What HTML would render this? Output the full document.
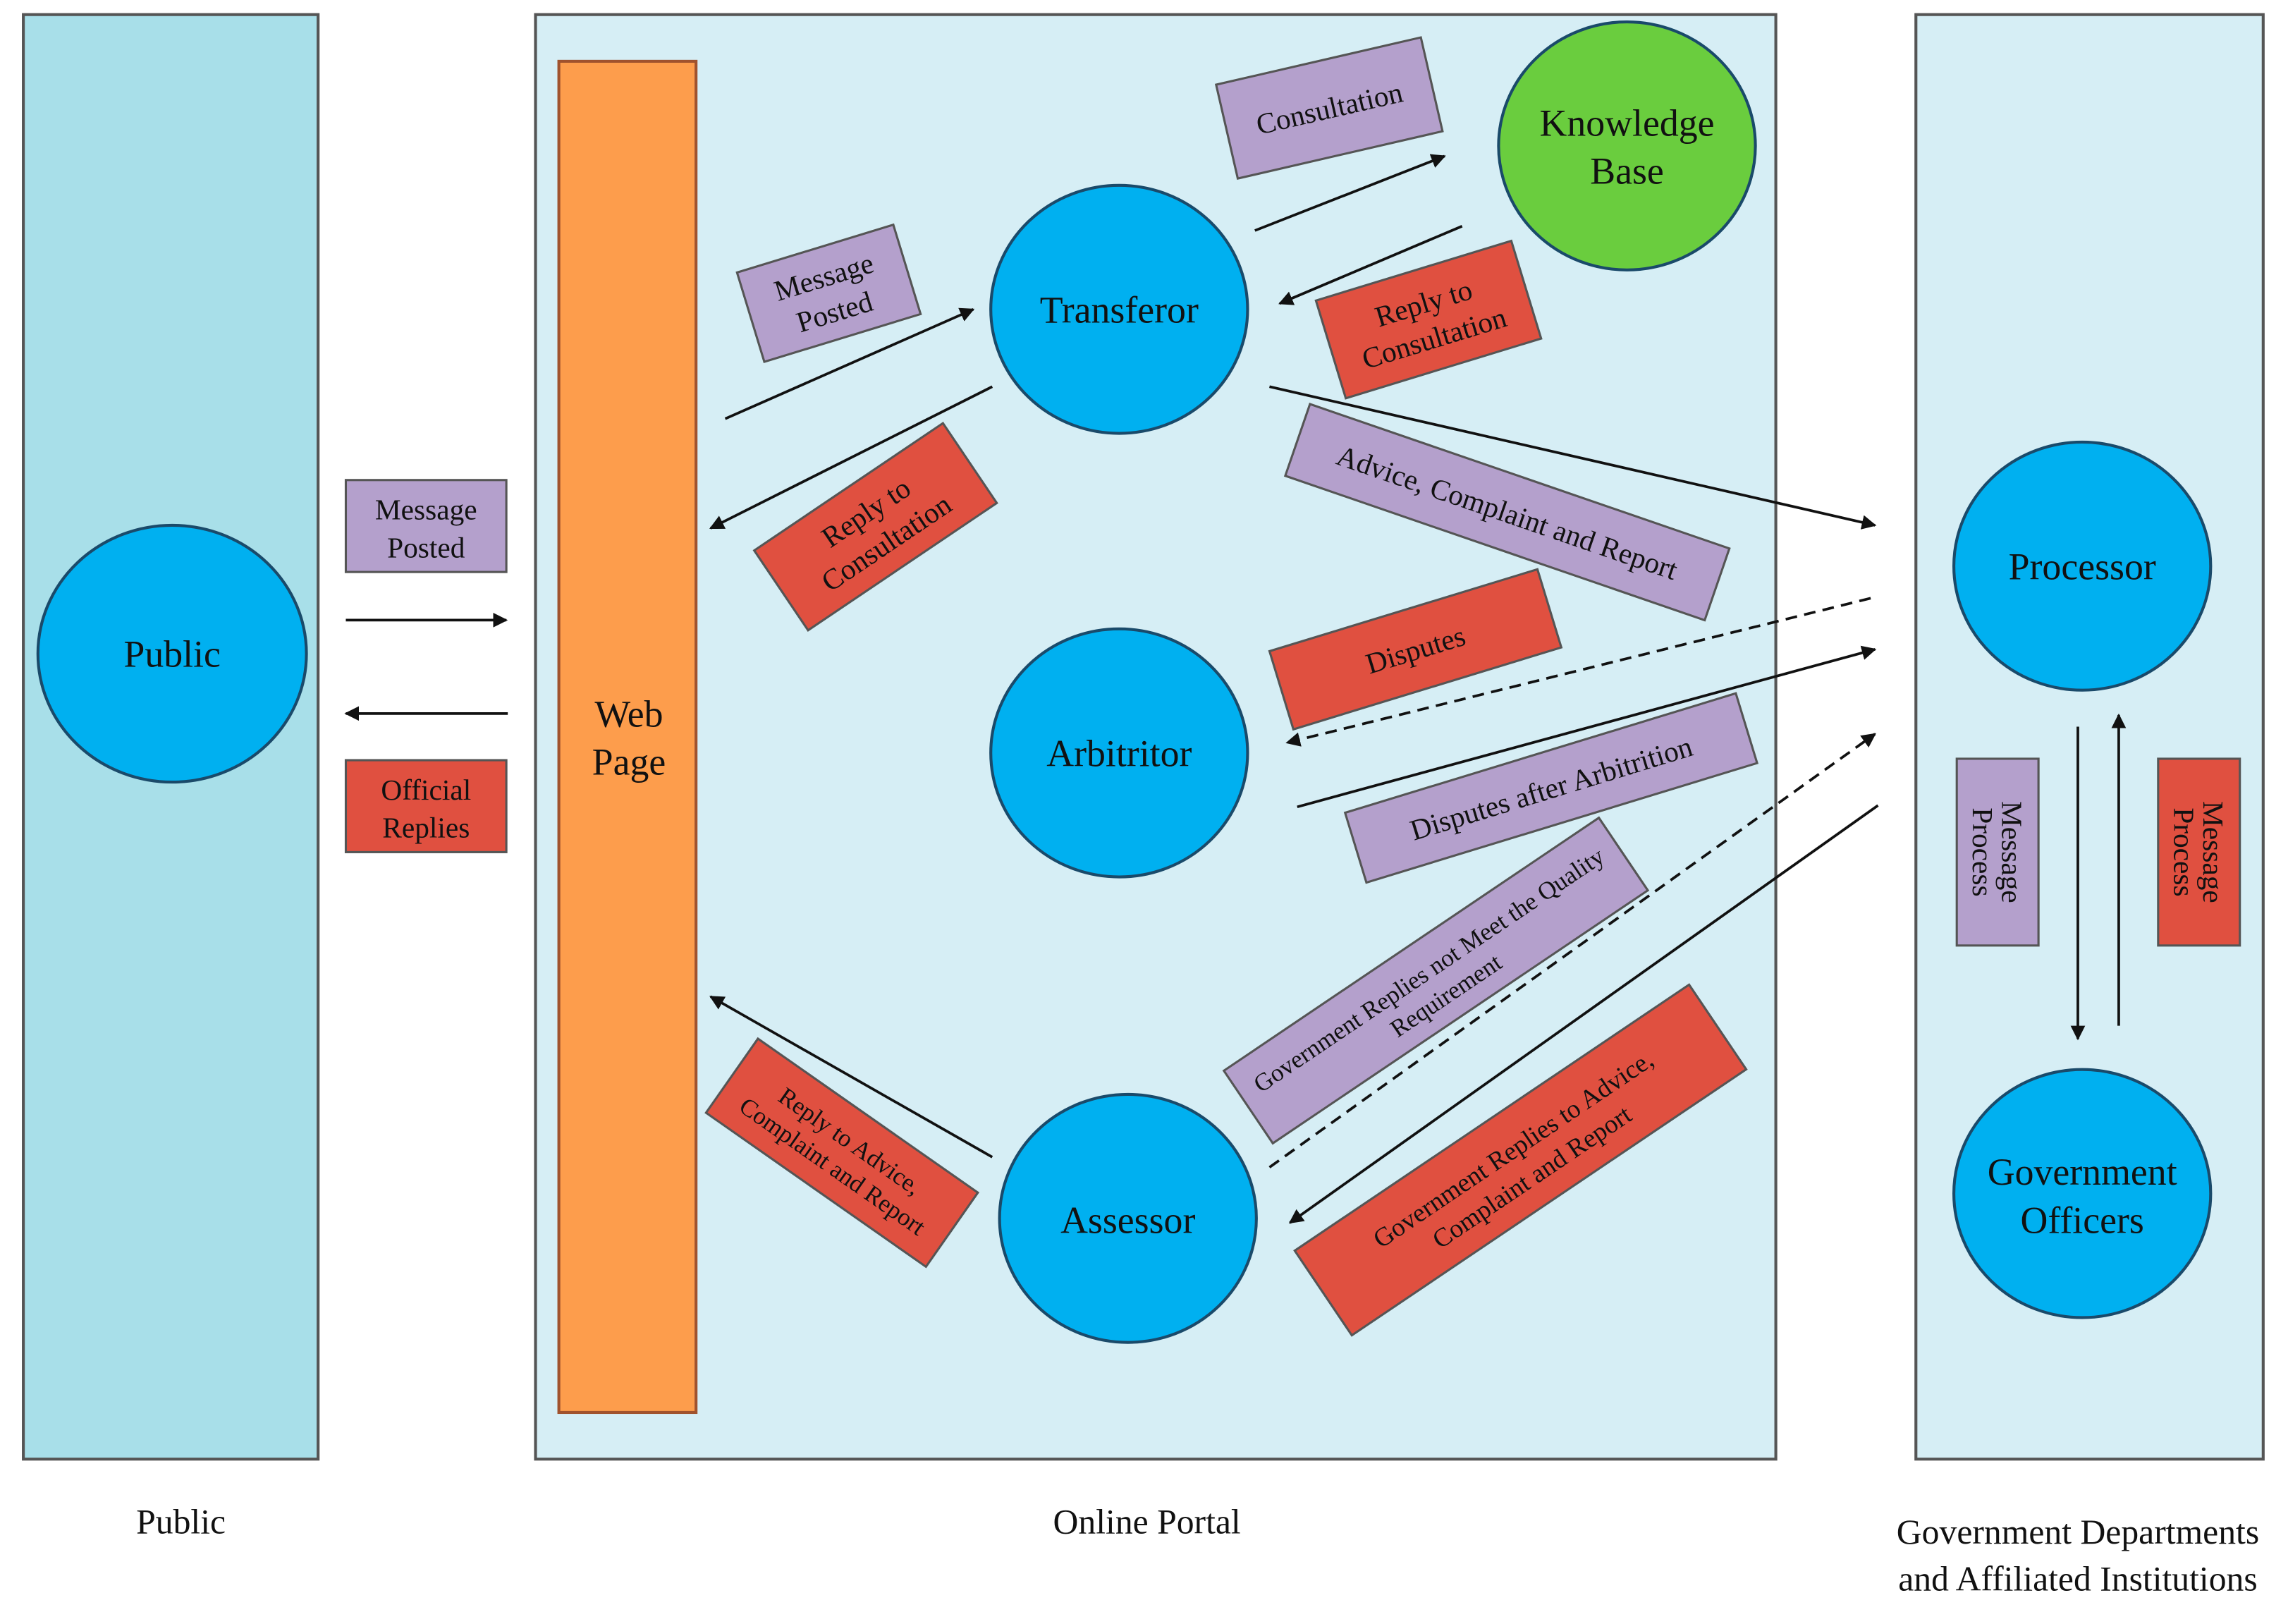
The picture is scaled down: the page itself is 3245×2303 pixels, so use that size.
<!DOCTYPE html>
<html><head><meta charset="utf-8"><style>
html,body{margin:0;padding:0;background:#fff}
svg{display:block}
text{font-family:"Liberation Serif",serif;fill:#111}
</style></head><body>
<svg width="3245" height="2303" viewBox="0 0 1568 1113" preserveAspectRatio="none" xmlns="http://www.w3.org/2000/svg">
<defs>
<marker id="a" markerWidth="10" markerHeight="10" refX="9" refY="5" orient="auto" markerUnits="userSpaceOnUse"><path d="M0,0 L10,5 L0,10 z" fill="#111"/></marker>
</defs>
<rect x="16" y="10" width="202" height="990" fill="#a8dfe9" stroke="#555" stroke-width="2"/>
<rect x="367" y="10" width="850" height="990" fill="#d6eef5" stroke="#555" stroke-width="2"/>
<rect x="1313" y="10" width="238" height="990" fill="#d6eef5" stroke="#555" stroke-width="2"/>
<rect x="383" y="42" width="94" height="926" fill="#fd9d4c" stroke="#a0522d" stroke-width="2"/>
<text x="431" y="498" font-size="26" text-anchor="middle">Web</text>
<text x="431" y="531" font-size="26" text-anchor="middle">Page</text>

<g stroke="#1a4a6a" stroke-width="2" fill="#00b0f0">
<ellipse cx="118" cy="448" rx="92" ry="88"/>
<ellipse cx="767" cy="212" rx="88" ry="85"/>
<ellipse cx="1115" cy="100" rx="88" ry="85" fill="#6acd3e"/>
<ellipse cx="767" cy="516" rx="88" ry="85"/>
<ellipse cx="773" cy="835" rx="88" ry="85"/>
<ellipse cx="1427" cy="388" rx="88" ry="85"/>
<ellipse cx="1427" cy="818" rx="88" ry="85"/>
</g>
<g font-size="26" text-anchor="middle">
<text x="118" y="457">Public</text>
<text x="767" y="221">Transferor</text>
<text x="1115" y="93">Knowledge</text>
<text x="1115" y="126">Base</text>
<text x="767" y="525">Arbitritor</text>
<text x="773" y="845">Assessor</text>
<text x="1427" y="397">Processor</text>
<text x="1427" y="812">Government</text>
<text x="1427" y="845">Officers</text>
</g>

<g stroke="#555" stroke-width="1.5">
<rect x="237" y="329" width="110" height="63" fill="#b4a0cc"/>
<rect x="237" y="521" width="110" height="63" fill="#e05040"/>
<rect x="1341" y="520" width="56" height="128" fill="#b4a0cc"/>
<rect x="1479" y="520" width="56" height="128" fill="#e05040"/>
</g>
<g font-size="20" text-anchor="middle">
<text x="292" y="356">Message</text><text x="292" y="382">Posted</text>
<text x="292" y="548">Official</text><text x="292" y="574">Replies</text>
<text transform="translate(1369,584) rotate(90)" y="-3">Message</text>
<text transform="translate(1369,584) rotate(90)" y="17">Process</text>
<text transform="translate(1507,584) rotate(90)" y="-3">Message</text>
<text transform="translate(1507,584) rotate(90)" y="17">Process</text>
</g>

<g stroke="#555" stroke-width="1.5" font-size="20" text-anchor="middle">
<g transform="translate(568,201) rotate(-17)"><rect x="-56" y="-32" width="112" height="64" fill="#b4a0cc"/><text y="-5" stroke="none">Message</text><text y="20" stroke="none">Posted</text></g>
<g transform="translate(911,74) rotate(-13)"><rect x="-72" y="-33" width="144" height="66" fill="#b4a0cc"/><text y="7" stroke="none">Consultation</text></g>
<g transform="translate(979,219) rotate(-17)"><rect x="-70" y="-35" width="140" height="70" fill="#e05040"/><text y="-5" stroke="none">Reply to</text><text y="20" stroke="none">Consultation</text></g>
<g transform="translate(600,361) rotate(-34)"><rect x="-78" y="-33" width="156" height="66" fill="#e05040"/><text y="-5" stroke="none">Reply to</text><text y="20" stroke="none">Consultation</text></g>
<g transform="translate(1033,351) rotate(19)"><rect x="-152" y="-26" width="304" height="52" fill="#b4a0cc"/><text y="7" stroke="none">Advice, Complaint and Report</text></g>
<g transform="translate(970,445) rotate(-17)"><rect x="-96" y="-28" width="192" height="56" fill="#e05040"/><text y="7" stroke="none">Disputes</text></g>
<g transform="translate(1063,540) rotate(-17)"><rect x="-140" y="-25" width="280" height="50" fill="#b4a0cc"/><text y="7" stroke="none">Disputes after Arbitrition</text></g>
<g transform="translate(984,672) rotate(-34)" font-size="17"><rect x="-155" y="-30" width="310" height="60" fill="#b4a0cc"/><text y="-3" stroke="none">Government Replies not Meet the Quality</text><text y="18" stroke="none">Requirement</text></g>
<g transform="translate(577,790) rotate(35)" font-size="17"><rect x="-92" y="-31" width="184" height="62" fill="#e05040"/><text y="-4" stroke="none">Reply to Advice,</text><text y="17" stroke="none">Complaint and Report</text></g>
<g transform="translate(1042,795) rotate(-34)" font-size="18"><rect x="-163" y="-35" width="326" height="70" fill="#e05040"/><text y="-3" stroke="none">Government Replies to Advice,</text><text y="20" stroke="none">Complaint and Report</text></g>
</g>

<g stroke="#111" stroke-width="1.8" fill="none" marker-end="url(#a)">
<line x1="237" y1="425" x2="347" y2="425"/>
<line x1="348" y1="489" x2="237" y2="489"/>
<line x1="497" y1="287" x2="667" y2="212"/>
<line x1="680" y1="265" x2="487" y2="362"/>
<line x1="860" y1="158" x2="990" y2="107"/>
<line x1="1002" y1="155" x2="877" y2="208"/>
<line x1="870" y1="265" x2="1285" y2="360"/>
<line x1="1282" y1="410" x2="882" y2="509" stroke-dasharray="8,5"/>
<line x1="889" y1="553" x2="1285" y2="445"/>
<line x1="870" y1="800" x2="1285" y2="503" stroke-dasharray="8,5"/>
<line x1="1287" y1="552" x2="884" y2="838"/>
<line x1="680" y1="793" x2="487" y2="683"/>
<line x1="1424" y1="498" x2="1424" y2="712"/>
<line x1="1452" y1="703" x2="1452" y2="490"/>
</g>

<g font-size="24" text-anchor="middle">
<text x="124" y="1051">Public</text>
<text x="786" y="1051">Online Portal</text>
<text x="1424" y="1058">Government Departments</text>
<text x="1424" y="1090">and Affiliated Institutions</text>
</g>
</svg>
</body></html>
